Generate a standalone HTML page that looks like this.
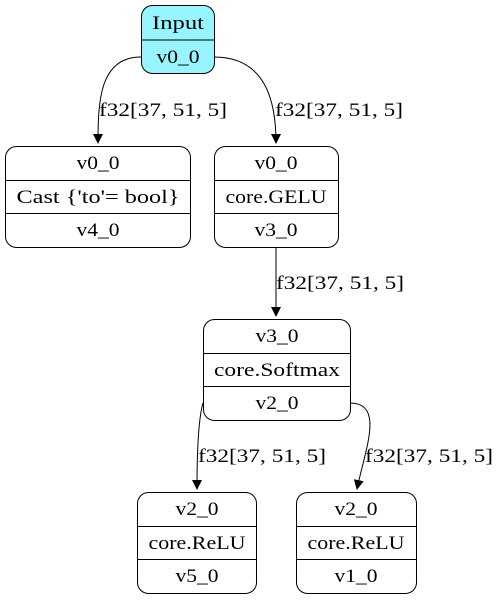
<!DOCTYPE html>
<html><head><meta charset="utf-8"><style>
html,body{margin:0;padding:0;background:#fff;width:499px;height:601px;overflow:hidden}
</style></head><body>
<svg width="499" height="601" viewBox="0 0 499 601" xmlns="http://www.w3.org/2000/svg">
<defs><marker id="a" markerWidth="10" markerHeight="10" refX="9" refY="5" orient="auto" markerUnits="userSpaceOnUse"><path d="M0,0 L10,5 L0,10 z" fill="#000"/></marker></defs>
<g fill="none" stroke="#000" stroke-width="1">
<path d="M141,57 C100,57 98,100 98,143" marker-end="url(#a)"/>
<path d="M214,57 C265,57 276,100 276,143" marker-end="url(#a)"/>
<path d="M276,248 L276,316" marker-end="url(#a)"/>
<path d="M203,403 C198,420 197,460 197,489" marker-end="url(#a)"/>
<path d="M350,403 C385,403 365,450 357,489" marker-end="url(#a)"/>
</g>
<rect x="141.5" y="5.5" width="73" height="68" rx="11" fill="#98f5ff" stroke="#000"/>
<line x1="141.5" y1="40" x2="214.5" y2="40" stroke="#000"/>
<g stroke="#000" fill="#fff">
<rect x="5.5" y="146.5" width="185" height="101" rx="11"/>
<rect x="214.5" y="146.5" width="124" height="101" rx="11"/>
<rect x="203.5" y="319.5" width="147" height="101" rx="11"/>
<rect x="137.5" y="492.5" width="119" height="101" rx="11"/>
<rect x="296.5" y="492.5" width="120" height="101" rx="11"/>
</g>
<g stroke="#000">
<line x1="5.5" y1="180.5" x2="190.5" y2="180.5"/><line x1="5.5" y1="213.5" x2="190.5" y2="213.5"/>
<line x1="214.5" y1="180.5" x2="338.5" y2="180.5"/><line x1="214.5" y1="213.5" x2="338.5" y2="213.5"/>
<line x1="203.5" y1="353.5" x2="350.5" y2="353.5"/><line x1="203.5" y1="386.5" x2="350.5" y2="386.5"/>
<line x1="137.5" y1="526.5" x2="256.5" y2="526.5"/><line x1="137.5" y1="559.5" x2="256.5" y2="559.5"/>
<line x1="296.5" y1="526.5" x2="416.5" y2="526.5"/><line x1="296.5" y1="559.5" x2="416.5" y2="559.5"/>
</g>
<g font-family="Liberation Serif, serif" font-size="19" fill="#000" text-anchor="middle">
<text x="178" y="29" textLength="52" lengthAdjust="spacingAndGlyphs">Input</text>
<text x="178" y="63" textLength="43" lengthAdjust="spacingAndGlyphs">v0_0</text>
<text x="98" y="169" textLength="43" lengthAdjust="spacingAndGlyphs">v0_0</text>
<text x="98" y="203" textLength="163" lengthAdjust="spacingAndGlyphs">Cast {'to'= bool}</text>
<text x="98" y="236" textLength="43" lengthAdjust="spacingAndGlyphs">v4_0</text>
<text x="276" y="169" textLength="43" lengthAdjust="spacingAndGlyphs">v0_0</text>
<text x="276" y="203" textLength="101" lengthAdjust="spacingAndGlyphs">core.GELU</text>
<text x="276" y="236" textLength="43" lengthAdjust="spacingAndGlyphs">v3_0</text>
<text x="277" y="342" textLength="43" lengthAdjust="spacingAndGlyphs">v3_0</text>
<text x="277" y="376" textLength="126" lengthAdjust="spacingAndGlyphs">core.Softmax</text>
<text x="277" y="409" textLength="43" lengthAdjust="spacingAndGlyphs">v2_0</text>
<text x="197" y="515" textLength="43" lengthAdjust="spacingAndGlyphs">v2_0</text>
<text x="197" y="549" textLength="97" lengthAdjust="spacingAndGlyphs">core.ReLU</text>
<text x="197" y="582" textLength="43" lengthAdjust="spacingAndGlyphs">v5_0</text>
<text x="356" y="515" textLength="43" lengthAdjust="spacingAndGlyphs">v2_0</text>
<text x="356" y="549" textLength="97" lengthAdjust="spacingAndGlyphs">core.ReLU</text>
<text x="356" y="582" textLength="43" lengthAdjust="spacingAndGlyphs">v1_0</text>
</g>
<g font-family="Liberation Serif, serif" font-size="19" fill="#000">
<text x="99" y="116" textLength="128" lengthAdjust="spacingAndGlyphs">f32[37, 51, 5]</text>
<text x="275" y="116" textLength="128" lengthAdjust="spacingAndGlyphs">f32[37, 51, 5]</text>
<text x="276" y="289" textLength="128" lengthAdjust="spacingAndGlyphs">f32[37, 51, 5]</text>
<text x="198" y="462" textLength="128" lengthAdjust="spacingAndGlyphs">f32[37, 51, 5]</text>
<text x="365" y="462" textLength="128" lengthAdjust="spacingAndGlyphs">f32[37, 51, 5]</text>
</g>
</svg>
</body></html>
